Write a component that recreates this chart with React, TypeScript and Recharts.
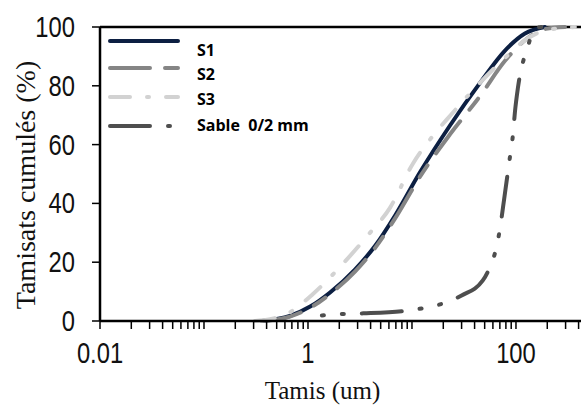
import React from 'react';
import { LineChart, Line, XAxis, YAxis, ReferenceLine } from 'recharts';

// ---- data ----
const s1X = [0.36, 0.67, 1.05, 1.63, 2.83, 4.41, 6.86, 11.9, 23.2, 45.1, 78.4, 122, 190];
const s1Y = [0, 1.7, 4.9, 9.7, 17.5, 25.5, 35.8, 50.5, 66.5, 81, 92, 97.8, 100];

const s2X = [0.36, 0.67, 1.05, 1.63, 2.83, 4.41, 6.86, 11.9, 23.2, 45.1, 78.4, 122, 190, 296];
const s2Y = [0, 1.5, 4.5, 9.2, 16.8, 24.8, 34.8, 49, 63.5, 76.5, 88.5, 95.5, 99.3, 100];

const s3X = [0.309, 0.431, 0.671, 1.117, 2.17, 3.69, 6.14, 10.2, 15.9, 24.2, 38.6, 78.4, 122, 190, 369];
const s3Y = [0, 0.6, 3, 9.2, 19.5, 28.8, 38.5, 53.5, 63, 70.5, 78.5, 89.5, 95.5, 98.8, 100];

const sableX = [1.36, 2.17, 3.4, 8, 12.5, 20, 30, 48, 56, 65.6, 71.7, 76.7, 87.5, 93.5, 97.8, 104.5, 130, 152, 175];
const sableY = [1.9, 2.4, 2.6, 3.3, 4.3, 6, 8.7, 13.8, 18.3, 25.8, 33.6, 41.1, 55.8, 63.3, 71.2, 79.4, 93.3, 99.5, 100];

const seriesNames = ['S1', 'S2', 'S3', 'Sable  0/2 mm'];
const seriesColors = ['#0c1f42', '#858585', '#d2d2d2', '#4e4e4e'];
const seriesDash = ['', '40 15 14 15', '20 17 2 17', '2 18 2 18 40 18'];
const legendDash = ['', '40 15 14 15', '20 17 2 17', '40 18 2 18 2 18'];

const yTicks = [0, 20, 40, 60, 80, 100];
const xLabelTicks = [0.01, 1, 100];
const xDecades = [0.01, 0.1, 1, 10, 100];
const xMultipliers = [1, 2, 3, 4, 5, 6, 7, 8, 9];
const xMax = 422;

const xTicks: number[] = [];
xDecades.forEach((d) => xMultipliers.forEach((m) => { if (d * m <= xMax) xTicks.push(d * m); }));

const toData = (xs: number[], ys: number[]) => xs.map((x, i) => ({ x, y: ys[i] }));
const seriesData = [toData(s1X, s1Y), toData(s2X, s2Y), toData(s3X, s3Y), toData(sableX, sableY)];

const tickFont = "'Liberation Sans', Arial, sans-serif";
const serif = "'Liberation Serif', 'Times New Roman', serif";

const XTick = (props: any) => {
  const { x, y, payload } = props;
  if (!xLabelTicks.includes(payload.value)) return <g />;
  return (
    <text
      transform={`translate(${x},${y + 32}) scale(0.82,1)`}
      textAnchor="middle"
      fontSize={29}
      fontFamily={tickFont}
      fill="#111"
    >
      {String(payload.value)}
    </text>
  );
};

const YTick = (props: any) => {
  const { x, y, payload } = props;
  return (
    <text
      transform={`translate(${x - 15},${y + 10}) scale(0.82,1)`}
      textAnchor="end"
      fontSize={29}
      fontFamily={tickFont}
      fill="#111"
    >
      {String(payload.value)}
    </text>
  );
};

const XTitle = (props: any) => {
  const vb = props.viewBox;
  return (
    <text x={vb.x + vb.width / 2 - 18} y={vb.y + 78} textAnchor="middle" fontSize={25} fontFamily={serif} fill="#111">
      Tamis (um)
    </text>
  );
};

const YTitle = (props: any) => {
  const vb = props.viewBox;
  const cx = 35;
  const cy = vb.y + vb.height / 2 + 11;
  return (
    <text x={cx} y={cy} transform={`rotate(-90, ${cx}, ${cy})`} textAnchor="middle" fontSize={28} fontFamily={serif} fill="#111">
      Tamisats cumulés (%)
    </text>
  );
};

const legendLineY = [41, 68, 97, 126];
const legendTextY = [50, 74, 99, 125];

export default function App() {
  return (
    <div style={{ position: 'absolute', left: 0, top: 0, width: 581, height: 406, background: '#fff' }}>
      <LineChart width={581} height={406} margin={{ top: 27, right: 0, left: 0, bottom: 0 }}>
        <XAxis
          dataKey="x"
          type="number"
          scale="log"
          domain={[0.01, xMax]}
          ticks={xTicks}
          interval={0}
          height={85}
          tickSize={8}
          tick={<XTick />}
          axisLine={{ stroke: '#000', strokeWidth: 2.5 }}
          tickLine={{ stroke: '#000', strokeWidth: 1.5 }}
          allowDuplicatedCategory={false}
          label={{ content: <XTitle /> }}
        />
        <YAxis
          type="number"
          domain={[0, 100]}
          ticks={yTicks}
          interval={0}
          width={100}
          tickSize={8}
          tick={<YTick />}
          axisLine={{ stroke: '#000', strokeWidth: 2.5 }}
          tickLine={{ stroke: '#000', strokeWidth: 1.5 }}
          label={{ content: <YTitle /> }}
        />
        <ReferenceLine y={100} stroke="#000" strokeWidth={2.5} />
        {seriesData.map((d, i) => (
          <Line
            key={seriesNames[i]}
            data={d}
            dataKey="y"
            type="monotone"
            stroke={seriesColors[i]}
            strokeWidth={4}
            strokeDasharray={seriesDash[i] || undefined}
            strokeLinecap="round"
            dot={false}
            activeDot={false}
            isAnimationActive={false}
          />
        ))}
      </LineChart>
      <svg width={581} height={406} style={{ position: 'absolute', left: 0, top: 0, pointerEvents: 'none' }}>
        {seriesNames.map((n, i) => (
          <g key={n}>
            <line
              x1={110}
              x2={178}
              y1={legendLineY[i]}
              y2={legendLineY[i]}
              stroke={seriesColors[i]}
              strokeWidth={4}
              strokeLinecap="round"
              strokeDasharray={legendDash[i] || undefined}
            />
            <text
              x={197}
              y={legendTextY[i] + 6}
              fontSize={16}
              fontWeight="bold"
              fontFamily="'Open Sans', 'Noto Sans', sans-serif"
              fill="#000"
              style={{ whiteSpace: 'pre' }}
            >
              {n}
            </text>
          </g>
        ))}
      </svg>
    </div>
  );
}
